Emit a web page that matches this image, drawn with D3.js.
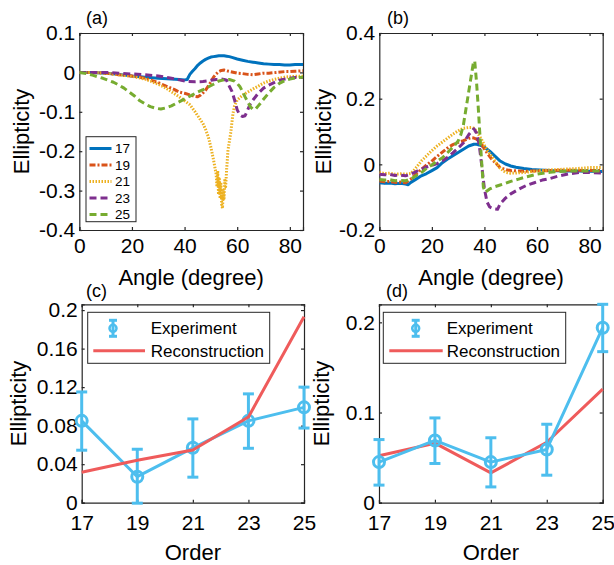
<!DOCTYPE html>
<html><head><meta charset="utf-8">
<script src="https://cdn.jsdelivr.net/npm/d3@7"></script>
<style>
body{margin:0;background:#fff}
svg{display:block}
text{font-family:"Liberation Sans",Arial,Helvetica,sans-serif;fill:#000}
</style>
</head><body><svg id="chart" width="614" height="565"></svg>
<script>
// ---------------- DATA ----------------
// Panel (a): ellipticity vs angle for harmonic orders
const a17Angle = [0,5,10,15,20,25,30,35,38,40,41,42,43,44,45,46,47,48,49,50,51,52,53,54,55,56,57,58,60,62,64,66,68,70,72,74,76,78,80,82,85];
const a17Val   = [0,0,-0.002,-0.005,-0.009,-0.012,-0.015,-0.017,-0.018,-0.019,-0.018,-0.005,0.003,0.01,0.018,0.024,0.029,0.033,0.036,0.039,0.04,0.041,0.042,0.042,0.042,0.041,0.04,0.038,0.034,0.031,0.028,0.026,0.024,0.022,0.021,0.02,0.02,0.019,0.019,0.02,0.02];
const a19Angle = [0,5,10,15,20,25,30,33,36,38,40,42,44,45,46,47,48,49,50,51,52,53,54,55,56,58,60,62,64,66,68,70,72,75,78,80,82,85];
const a19Val   = [0,0,-0.002,-0.006,-0.009,-0.015,-0.026,-0.035,-0.043,-0.05,-0.053,-0.057,-0.061,-0.062,-0.058,-0.052,-0.045,-0.035,-0.024,-0.012,-0.004,0.002,0.005,0.006,0.004,0.001,-0.002,-0.003,-0.005,-0.006,-0.004,-0.002,-0.002,0,0.002,0.002,0.003,0.004];
const a21Angle = [0,5,10,15,20,25,30,33,35,38,40,42,44,45,47,48,49,50,51,52,52.3,52.6,52.9,53.2,53.5,53.8,54.1,54.4,54.7,55,55.3,55.6,56,56.5,57.5,58.4,59,60,62,64,66,68,70,72,74,76,78,80,82,85];
const a21Val   = [0,0,-0.002,-0.006,-0.01,-0.017,-0.03,-0.04,-0.049,-0.062,-0.072,-0.082,-0.1,-0.11,-0.13,-0.145,-0.163,-0.19,-0.222,-0.258,-0.29,-0.25,-0.31,-0.27,-0.32,-0.28,-0.335,-0.345,-0.3,-0.32,-0.27,-0.29,-0.245,-0.197,-0.155,-0.104,-0.085,-0.07,-0.058,-0.05,-0.042,-0.035,-0.027,-0.022,-0.018,-0.015,-0.012,-0.011,-0.01,-0.01];
const a23Angle = [0,5,10,15,20,25,30,35,38,41,44,47,50,52,54,55,56,57,58,59,60,61,62,63,64,65,66,68,70,72,74,76,78,80,82,85];
const a23Val   = [0,0,0,-0.002,-0.004,-0.006,-0.009,-0.015,-0.019,-0.023,-0.024,-0.023,-0.02,-0.018,-0.017,-0.018,-0.02,-0.035,-0.048,-0.07,-0.095,-0.108,-0.112,-0.11,-0.095,-0.08,-0.07,-0.053,-0.04,-0.032,-0.026,-0.02,-0.017,-0.015,-0.013,-0.013];
const a25Angle = [0,3,5,7,9,11,13,15,17,19,21,23,25,27,29,31,33,35,37,39,41,43,45,47,49,51,53,55,57,59,60,61,62,63,64,65,66,67,68,69,70,72,74,76,78,80,82,85];
const a25Val   = [0,-0.003,-0.007,-0.011,-0.015,-0.02,-0.025,-0.032,-0.04,-0.05,-0.06,-0.072,-0.08,-0.087,-0.091,-0.093,-0.09,-0.085,-0.078,-0.071,-0.064,-0.057,-0.05,-0.044,-0.037,-0.03,-0.022,-0.019,-0.018,-0.022,-0.028,-0.036,-0.048,-0.062,-0.075,-0.087,-0.094,-0.093,-0.085,-0.077,-0.068,-0.052,-0.038,-0.028,-0.021,-0.017,-0.014,-0.012];

// Panel (b)
const b17Angle = [0,2,4,6,8,10,11,12,14,16,18,20,22,24,26,28,30,32,34,36,37,38,39,40,41,42,44,46,48,50,52,55,58,61,65,70,75,80,85];
const b17Val   = [-0.056,-0.058,-0.057,-0.059,-0.058,-0.06,-0.062,-0.055,-0.045,-0.035,-0.028,-0.019,-0.01,0.005,0.016,0.026,0.036,0.046,0.056,0.061,0.061,0.059,0.056,0.052,0.046,0.04,0.025,0.01,0.001,-0.005,-0.009,-0.013,-0.016,-0.017,-0.019,-0.02,-0.02,-0.021,-0.022];
const b19Angle = [0,2,4,6,8,10,12,14,16,18,20,22,24,26,28,30,32,34,35,36,37,38,39,40,41,42,43,44,46,48,50,55,60,65,70,75,80,85];
const b19Val   = [-0.051,-0.053,-0.052,-0.055,-0.054,-0.056,-0.045,-0.03,-0.015,-0.002,0.01,0.024,0.037,0.05,0.06,0.067,0.072,0.079,0.081,0.08,0.077,0.07,0.06,0.047,0.035,0.024,0.014,0.006,-0.01,-0.016,-0.019,-0.021,-0.02,-0.019,-0.018,-0.018,-0.019,-0.019];
const b21Angle = [0,2,4,6,8,10,12,13,14,16,18,20,22,24,26,28,30,32,33,34,35,36,37,38,39,40,41,42,43,44,46,48,50,55,60,65,70,75,80,85];
const b21Val   = [-0.025,-0.028,-0.027,-0.03,-0.029,-0.03,-0.028,-0.02,-0.01,0.01,0.026,0.042,0.056,0.068,0.08,0.092,0.102,0.11,0.111,0.112,0.112,0.11,0.1,0.088,0.074,0.058,0.044,0.032,0.022,0.01,-0.012,-0.024,-0.027,-0.025,-0.02,-0.017,-0.015,-0.013,-0.01,-0.01];
const b23Angle = [0,2,4,6,8,10,12,14,16,18,20,22,24,26,28,30,32,34,35,36,37,38,39,40,41,42,43,44,45,46,48,50,53,56,59,62,65,68,72,76,80,85];
const b23Val   = [-0.03,-0.032,-0.031,-0.034,-0.033,-0.035,-0.03,-0.022,-0.015,-0.008,-0.003,0.002,0.01,0.022,0.035,0.05,0.065,0.09,0.1,0.108,0.095,0.06,-0.005,-0.075,-0.115,-0.13,-0.134,-0.136,-0.137,-0.12,-0.103,-0.09,-0.076,-0.064,-0.056,-0.048,-0.043,-0.036,-0.029,-0.025,-0.025,-0.027];
const b25Angle = [0,2,4,6,8,10,12,14,16,18,20,22,24,26,28,30,31,32,33,34,35,35.7,36.3,37,37.6,38.2,39,39.6,40.3,42,44,46,48,50,53,56,60,65,70,75,80,85];
const b25Val   = [-0.046,-0.048,-0.047,-0.05,-0.049,-0.05,-0.045,-0.035,-0.025,-0.012,-0.002,0.01,0.02,0.036,0.052,0.071,0.09,0.12,0.17,0.22,0.27,0.305,0.315,0.25,0.18,0.1,0,-0.07,-0.085,-0.075,-0.068,-0.063,-0.058,-0.052,-0.045,-0.038,-0.03,-0.024,-0.021,-0.02,-0.02,-0.02];

// Panels (c) and (d): ellipticity vs harmonic order
const orders = [17,19,21,23,25];
const cExp = [0.085,0.027,0.057,0.085,0.099];
const cErr = [0.030,0.0285,0.030,0.028,0.021];
const cRec = [0.0316,0.044,0.0547,0.089,0.193];
const dExp = [0.045,0.069,0.045,0.059,0.194];
const dErr = [0.025,0.025,0.027,0.028,0.026];
const dRec = [0.052,0.066,0.033,0.067,0.126];

// Tick values and labels
const angleTicks = [0,20,40,60,80];
const aYTicks = [-0.4,-0.3,-0.2,-0.1,0,0.1];
const aYLabels = ["-0.4","-0.3","-0.2","-0.1","0","0.1"];
const bYTicks = [-0.2,0,0.2,0.4];
const bYLabels = ["-0.2","0","0.2","0.4"];
const cYTicks = [0,0.04,0.08,0.12,0.16,0.2];
const cYLabels = ["0","0.04","0.08","0.12","0.16","0.2"];
const dYTicks = [0,0.1,0.2];
const dYLabels = ["0","0.1","0.2"];
const seriesNames = ["17","19","21","23","25"];
const legendCD = ["Experiment","Reconstruction"];

// ---------------- STYLE ----------------
const seriesStyle = {
  "17": {color:"#0072BD", dash:null},
  "19": {color:"#D95319", dash:"6,2,2,2"},
  "21": {color:"#EDB120", dash:"1.5,1.5"},
  "23": {color:"#7E2F8E", dash:"7,4"},
  "25": {color:"#77AC30", dash:"7,4"}
};
const expColor = "#4DBEEE";
const recColor = "#EF5B5B";
const axisColor = "#262626";
const TICKFONT = 21;

const svg = d3.select("#chart");
svg.append("rect").attr("width",614).attr("height",565).attr("fill","#fff");

let clipId = 0;
function panel(o){
  const x = d3.scaleLinear().domain(o.xDomain).range([o.x0,o.x1]);
  const y = d3.scaleLinear().domain(o.yDomain).range([o.y1,o.y0]);
  const g = svg.append("g");
  const id = "clip"+(clipId++);
  svg.append("clipPath").attr("id",id).append("rect")
    .attr("x",o.x0).attr("y",o.y0).attr("width",o.x1-o.x0).attr("height",o.y1-o.y0);
  const tl = 3;
  const bottom = d3.axisBottom(x).tickValues(o.xTicks).tickSize(-tl).tickFormat((d,i)=>o.xLabels[i]).tickPadding(o.xPad);
  const top = d3.axisTop(x).tickValues(o.xTicks).tickSize(-tl).tickFormat("");
  const left = d3.axisLeft(y).tickValues(o.yTicks).tickSize(-tl).tickFormat((d,i)=>o.yLabels[i]).tickPadding(o.yPad);
  const right = d3.axisRight(y).tickValues(o.yTicks).tickSize(-tl).tickFormat("");
  const axes = [
    [bottom, `translate(0,${o.y1})`],
    [top, `translate(0,${o.y0})`],
    [left, `translate(${o.x0},0)`],
    [right, `translate(${o.x1},0)`]
  ];
  axes.forEach(([ax,tr])=>{
    const a = g.append("g").attr("transform",tr).call(ax);
    a.select(".domain").attr("stroke",axisColor).attr("stroke-width",1.2);
    a.selectAll(".tick line").attr("stroke",axisColor).attr("stroke-width",1.2);
    a.selectAll(".tick text").attr("fill","#000").style("font-size",TICKFONT+"px")
      .style("font-family",'"Liberation Sans",Arial,sans-serif');
  });
  g.append("text").attr("x",(o.x0+o.x1)/2).attr("y",o.y1+o.xTitleOff)
    .attr("text-anchor","middle").style("font-size","22px").text(o.xTitle);
  g.append("text").attr("transform",`translate(${o.yTitleX},${(o.y0+o.y1)/2}) rotate(-90)`)
    .attr("text-anchor","middle").style("font-size","22px").text("Ellipticity");
  g.append("text").attr("x",o.labelX).attr("y",o.labelY).style("font-size","18px").text(o.label);
  return {x,y,g,clip:`url(#${id})`};
}

// ---------------- (a) ----------------
const pa = panel({x0:79.3,x1:303,y0:33,y1:230,xDomain:[0,85],yDomain:[-0.4,0.1],
  xTicks:angleTicks,xLabels:angleTicks.map(String),yTicks:aYTicks,yLabels:aYLabels,
  xPad:8,yPad:4,xTitle:"Angle (degree)",xTitleOff:55,yTitleX:29,
  label:"(a)",labelX:86,labelY:24});
const aSeries = [[a17Angle,a17Val],[a19Angle,a19Val],[a21Angle,a21Val],[a23Angle,a23Val],[a25Angle,a25Val]];
function drawLines(p, series){
  series.forEach((s,i)=>{
    const st = seriesStyle[seriesNames[i]];
    const line = d3.line().x(d=>p.x(d[0])).y(d=>p.y(d[1]));
    const pts = s[0].map((a,k)=>[a,s[1][k]]);
    p.g.append("path").attr("d",line(pts)).attr("fill","none")
      .attr("stroke",st.color).attr("stroke-width",3)
      .attr("stroke-dasharray",st.dash).attr("stroke-linejoin","round")
      .attr("clip-path",p.clip);
  });
}
drawLines(pa,aSeries);

// legend (a)
const la = pa.g.append("g");
la.append("rect").attr("x",86).attr("y",136.7).attr("width",50).attr("height",85)
  .attr("fill","#fff").attr("stroke",axisColor).attr("stroke-width",1);
seriesNames.forEach((n,i)=>{
  const yy = 148.5 + i*16.5;
  const st = seriesStyle[n];
  la.append("line").attr("x1",89.5).attr("x2",111.5).attr("y1",yy).attr("y2",yy)
    .attr("stroke",st.color).attr("stroke-width",3).attr("stroke-dasharray",st.dash);
  la.append("text").attr("x",115).attr("y",yy+4.8).style("font-size","13.5px").text(n);
});

// ---------------- (b) ----------------
const pb = panel({x0:379.3,x1:602.7,y0:33,y1:230,xDomain:[0,85],yDomain:[-0.2,0.4],
  xTicks:angleTicks,xLabels:angleTicks.map(String),yTicks:bYTicks,yLabels:bYLabels,
  xPad:8,yPad:4,xTitle:"Angle (degree)",xTitleOff:55,yTitleX:330.5,
  label:"(b)",labelX:387,labelY:24});
drawLines(pb,[[b17Angle,b17Val],[b19Angle,b19Val],[b21Angle,b21Val],[b23Angle,b23Val],[b25Angle,b25Val]]);

// ---------------- (c),(d) ----------------
function orderPanel(p, exp, err, rec, recOnTop, legendX, iconX, lineX1, lineX2, textX){
  const line = d3.line().x((d,i)=>p.x(orders[i])).y(d=>p.y(d));
  const drawRec = ()=> p.g.append("path").attr("d",line(rec)).attr("fill","none")
      .attr("stroke",recColor).attr("stroke-width",3).attr("stroke-linejoin","round");
  if(!recOnTop) drawRec();
  const eg = p.g.append("g");
  eg.append("path").attr("d",line(exp)).attr("fill","none").attr("stroke",expColor)
    .attr("stroke-width",3).attr("stroke-linejoin","round");
  orders.forEach((o,i)=>{
    const cx = p.x(o), yt = p.y(exp[i]+err[i]), yb = p.y(Math.max(0,exp[i]-err[i])-0.0005);
    eg.append("line").attr("x1",cx).attr("x2",cx).attr("y1",yt).attr("y2",yb).attr("stroke",expColor).attr("stroke-width",3);
    [yt,yb].forEach(yy=>eg.append("line").attr("x1",cx-5.5).attr("x2",cx+5.5).attr("y1",yy).attr("y2",yy)
      .attr("stroke",expColor).attr("stroke-width",3));
    eg.append("circle").attr("cx",cx).attr("cy",p.y(exp[i])).attr("r",5.5).attr("fill","none")
      .attr("stroke",expColor).attr("stroke-width",3);
  });
  if(recOnTop) drawRec();
  const lg = p.g.append("g");
  lg.append("rect").attr("x",legendX).attr("y",312.3).attr("width",textX+119-legendX).attr("height",51)
    .attr("fill","#fff").attr("stroke",axisColor).attr("stroke-width",1);
  const y1 = 328.3, y2 = 350.7;
  lg.append("line").attr("x1",iconX).attr("x2",iconX).attr("y1",y1-8).attr("y2",y1+8).attr("stroke",expColor).attr("stroke-width",3);
  [y1-8,y1+8].forEach(yy=>lg.append("line").attr("x1",iconX-4).attr("x2",iconX+4).attr("y1",yy).attr("y2",yy).attr("stroke",expColor).attr("stroke-width",3));
  lg.append("circle").attr("cx",iconX).attr("cy",y1).attr("r",3.5).attr("fill","none").attr("stroke",expColor).attr("stroke-width",2.5);
  lg.append("line").attr("x1",lineX1).attr("x2",lineX2).attr("y1",y2).attr("y2",y2).attr("stroke",recColor).attr("stroke-width",3);
  lg.append("text").attr("x",textX).attr("y",y1+6).style("font-size","17px").text(legendCD[0]);
  lg.append("text").attr("x",textX).attr("y",y2+6).style("font-size","17px").text(legendCD[1]);
}

const pc = panel({x0:81.7,x1:304,y0:304.3,y1:502.7,xDomain:[17,25],yDomain:[0,0.206],
  xTicks:orders,xLabels:orders.map(String),yTicks:cYTicks,yLabels:cYLabels,
  xPad:12,yPad:4,xTitle:"Order",xTitleOff:57,yTitleX:25.5,
  label:"(c)",labelX:86,labelY:297});
orderPanel(pc,cExp,cErr,cRec,true,87.7,113,93.3,145,150.7);

const pd = panel({x0:379,x1:602.7,y0:304.3,y1:502.7,xDomain:[17,25],yDomain:[0,0.22],
  xTicks:orders,xLabels:orders.map(String),yTicks:dYTicks,yLabels:dYLabels,
  xPad:12,yPad:4,xTitle:"Order",xTitleOff:57,yTitleX:328.7,
  label:"(d)",labelX:386,labelY:297});
orderPanel(pd,dExp,dErr,dRec,false,383.3,415.7,389.3,442.7,446.7);
</script></body></html>
